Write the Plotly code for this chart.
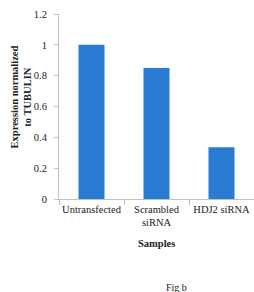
import plotly.graph_objects as go

categories = ["Untransfected", "Scrambled<br>siRNA", "HDJ2 siRNA"]
values = [1.0, 0.85, 0.335]
y_ticks = [0, 0.2, 0.4, 0.6, 0.8, 1, 1.2]
y_tick_labels = ["0", "0.2", "0.4", "0.6", "0.8", "1", "1.2"]

FONT = "Liberation Serif"
AXC = "#c0c0c0"

fig = go.Figure(go.Bar(x=categories, y=values, marker_color="#2a7bd2",
                       marker_line_width=0, width=0.4))

fig.update_layout(
    width=254, height=292,
    margin=dict(l=59, r=0, t=14, b=93),
    paper_bgcolor="white", plot_bgcolor="white",
    showlegend=False,
    font=dict(family=FONT, size=10.5, color="#222"),
    xaxis=dict(showline=True, linecolor=AXC, linewidth=1,
               ticks="outside", tickson="boundaries", ticklen=5, tickcolor=AXC,
               tickangle=0, automargin=False,
               tickfont=dict(family=FONT, size=10.5, color="#222"),
               showgrid=False),
    yaxis=dict(range=[0, 1.2], tickvals=y_ticks, ticktext=y_tick_labels,
               showline=True, linecolor=AXC, linewidth=1,
               ticks="outside", ticklen=4, tickcolor=AXC,
               ticklabelstandoff=5, automargin=False,
               tickfont=dict(family=FONT, size=10.5, color="#222"),
               showgrid=False, zeroline=False),
    annotations=[
        dict(text="<b>Expression normalized</b>", xref="paper", yref="paper",
             x=-0.23, y=0.55, xanchor="center", yanchor="middle", textangle=-90,
             showarrow=False, font=dict(family=FONT, size=10.5, color="#222")),
        dict(text="<b>to TUBULIN</b>", xref="paper", yref="paper",
             x=-0.162, y=0.55, xanchor="center", yanchor="middle", textangle=-90,
             showarrow=False, font=dict(family=FONT, size=10.5, color="#222")),
        dict(text="<b>Samples</b>", xref="paper", yref="paper",
             x=0.5, y=-0.238, xanchor="center", yanchor="middle",
             showarrow=False, font=dict(family=FONT, size=10.5, color="#222")),
        dict(text="Fig b", xref="paper", yref="paper",
             x=0.605, y=-0.476, xanchor="center", yanchor="middle",
             showarrow=False, font=dict(family=FONT, size=10, color="#222")),
    ],
)

fig.write_html(
    "out.html",
    config={"displayModeBar": False},
    post_script="document.body.style.margin='0';document.body.style.overflow='hidden';",
)
